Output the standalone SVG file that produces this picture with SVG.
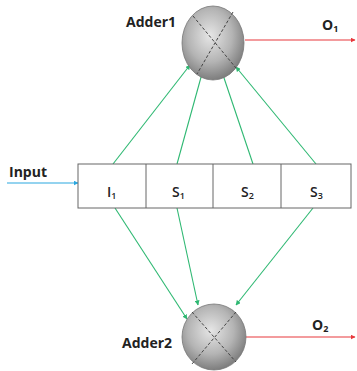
<svg xmlns="http://www.w3.org/2000/svg" width="357" height="371" viewBox="0 0 357 371">
<defs>
<radialGradient id="sph" cx="45%" cy="40%" r="60%">
<stop offset="0" stop-color="#e6e6e6"/>
<stop offset="0.6" stop-color="#b4b4b4"/>
<stop offset="1" stop-color="#7e7e7e"/>
</radialGradient>
<marker id="ag" viewBox="0 0 10 10" refX="9" refY="5" markerWidth="5" markerHeight="5" orient="auto" markerUnits="userSpaceOnUse"><path d="M0,0 L10,5 L0,10 z" fill="#2eb872"/></marker>
<marker id="ar" viewBox="0 0 10 10" refX="9" refY="5" markerWidth="5" markerHeight="5" orient="auto" markerUnits="userSpaceOnUse"><path d="M0,0 L10,5 L0,10 z" fill="#e8383c"/></marker>
<marker id="ab" viewBox="0 0 10 10" refX="9" refY="5" markerWidth="5" markerHeight="5" orient="auto" markerUnits="userSpaceOnUse"><path d="M0,0 L10,5 L0,10 z" fill="#2aa7e0"/></marker>
</defs>
<style>
.lbl{font-family:"Open Sans","Liberation Sans",sans-serif;font-weight:bold;font-size:14px;fill:#222}
.cell{font-family:"Open Sans","Liberation Sans",sans-serif;font-weight:600;font-size:14px;fill:#222}
.sub{font-size:9px}
.g{stroke:#2eb872;stroke-width:1.1;fill:none;marker-end:url(#ag)}
.r{stroke:#e8383c;stroke-width:1.1;fill:none;marker-end:url(#ar)}
.b{stroke:#2aa7e0;stroke-width:1.1;fill:none;marker-end:url(#ab)}
.sphere{fill:url(#sph);stroke:#777;stroke-width:0.8}
.x{stroke:#444;stroke-width:1;stroke-dasharray:3,2}
.box{fill:#fff;stroke:#666;stroke-width:1}
</style>
<g id="connectors">
<line class="b" x1="7" y1="183" x2="78" y2="183"/>
<line class="g" x1="113" y1="164" x2="190" y2="65"/>
<line class="g" x1="177" y1="164" x2="203" y2="70"/>
<line class="g" x1="253" y1="164" x2="222" y2="72"/>
<line class="g" x1="316" y1="164" x2="236" y2="67"/>
<line class="g" x1="115" y1="208" x2="187" y2="319"/>
<line class="g" x1="177" y1="208" x2="198" y2="305"/>
<line class="g" x1="313" y1="208" x2="236" y2="305"/>
<line class="r" x1="245" y1="40" x2="355" y2="40"/>
<line class="r" x1="246" y1="337" x2="355" y2="337"/>
</g>
<g id="adder1">
<ellipse class="sphere" cx="213" cy="43" rx="31" ry="37"/>
<line class="x" x1="193" y1="16" x2="236" y2="68"/>
<line class="x" x1="233" y1="12" x2="197" y2="74"/>
<text class="lbl" x="126" y="27">Adder1</text>
</g>
<g id="o1"><text class="lbl" x="322" y="30">O<tspan class="sub" dy="2">1</tspan></text></g>
<g id="adder2">
<ellipse class="sphere" cx="214" cy="337" rx="32" ry="33"/>
<line class="x" x1="192" y1="312" x2="236" y2="362"/>
<line class="x" x1="236" y1="312" x2="192" y2="364"/>
<text class="lbl" x="122" y="348">Adder2</text>
</g>
<g id="o2"><text class="lbl" x="312" y="330">O<tspan class="sub" dy="2">2</tspan></text></g>
<g id="input"><text class="lbl" x="9" y="177">Input</text></g>
<g id="register">
<rect class="box" x="78" y="164" width="273" height="44"/>
<line stroke="#666" x1="146" y1="164" x2="146" y2="208"/>
<line stroke="#666" x1="213" y1="164" x2="213" y2="208"/>
<line stroke="#666" x1="281" y1="164" x2="281" y2="208"/>
<text class="cell" x="107" y="197">I<tspan class="sub" dy="2">1</tspan></text>
<text class="cell" x="172" y="197">S<tspan class="sub" dy="2">1</tspan></text>
<text class="cell" x="241" y="197">S<tspan class="sub" dy="2">2</tspan></text>
<text class="cell" x="310" y="197">S<tspan class="sub" dy="2">3</tspan></text>
</g>
</svg>
